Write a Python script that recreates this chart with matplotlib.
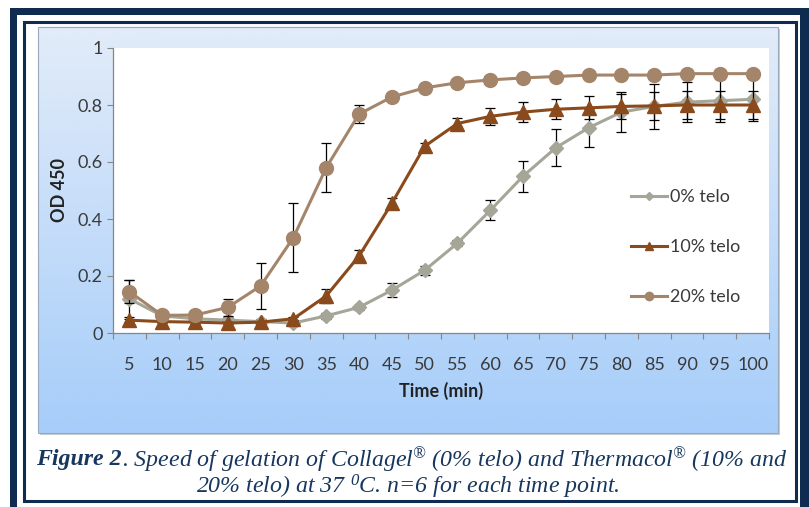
import numpy as np
import matplotlib
matplotlib.use("Agg")
import matplotlib.pyplot as plt
from matplotlib.patches import Rectangle
from matplotlib.colors import LinearSegmentedColormap

# data
times = [5, 10, 15, 20, 25, 30, 35, 40, 45, 50, 55, 60, 65, 70, 75, 80, 85, 90, 95, 100]

telo0 = [0.12, 0.06, 0.05, 0.045, 0.04, 0.035, 0.06, 0.09, 0.15, 0.22,
         0.315, 0.43, 0.55, 0.65, 0.72, 0.775, 0.795, 0.81, 0.815, 0.82]
err0 = [0.065, 0.01, 0.01, 0.01, 0.01, 0.01, 0.01, 0.01, 0.025, 0.015,
        0.01, 0.035, 0.055, 0.065, 0.067, 0.07, 0.08, 0.07, 0.075, 0.075]

telo10 = [0.045, 0.04, 0.038, 0.035, 0.038, 0.05, 0.13, 0.27, 0.455, 0.655,
          0.735, 0.76, 0.775, 0.785, 0.79, 0.795, 0.797, 0.80, 0.80, 0.80]
err10 = [0.005, 0.005, 0.005, 0.005, 0.005, 0.005, 0.025, 0.02, 0.02, 0.01,
         0.02, 0.03, 0.035, 0.035, 0.04, 0.045, 0.05, 0.05, 0.05, 0.05]

telo20 = [0.145, 0.062, 0.063, 0.09, 0.165, 0.335, 0.58, 0.768, 0.828, 0.86,
          0.878, 0.888, 0.895, 0.90, 0.905, 0.905, 0.905, 0.91, 0.91, 0.91]
err20 = [0.04, 0.004, 0.004, 0.03, 0.08, 0.12, 0.085, 0.032, 0.005, 0.005,
         0.004, 0.004, 0.004, 0.004, 0.004, 0.004, 0.004, 0.004, 0.004, 0.004]

series_labels = ['0% telo', '10% telo', '20% telo']
yticks = [0, 0.2, 0.4, 0.6, 0.8, 1]
ytick_labels = ['0', '0.2', '0.4', '0.6', '0.8', '1']

W, H = 809, 507
navy = '#0f2b50'
plt.rcParams['font.family'] = ['Lato', 'DejaVu Sans']
plt.rcParams['mathtext.fontset'] = 'custom'
plt.rcParams['mathtext.rm'] = 'Liberation Serif:italic'
plt.rcParams['mathtext.it'] = 'Liberation Serif:italic'
plt.rcParams['mathtext.bf'] = 'Liberation Serif:italic:bold'

fig = plt.figure(figsize=(W / 100, H / 100), dpi=100)
fig.patch.set_facecolor('white')


def box(x0, y0, x1, y1):
    # pixel box (top-left origin) -> figure fraction rect
    return (x0 / W, 1 - y1 / H, (x1 - x0) / W, (y1 - y0) / H)


# double navy frame
r = box(10, 8, 812, 512)
fig.add_artist(Rectangle(r[:2], r[2], r[3], transform=fig.transFigure, facecolor=navy, edgecolor='none', zorder=-5))
r = box(17, 15, 800, 512)
fig.add_artist(Rectangle(r[:2], r[2], r[3], transform=fig.transFigure, facecolor='white', edgecolor='none', zorder=-4))
r = box(23.5, 21.5, 795.5, 500.5)
fig.add_artist(Rectangle(r[:2], r[2], r[3], transform=fig.transFigure, facecolor='none', edgecolor=navy, lw=2.2, zorder=-3))

# chart area with gradient
r = box(38, 27, 778, 433)
bg = fig.add_axes(r, zorder=-2)
cmap = LinearSegmentedColormap.from_list('g', ['#e2ecf9', '#a6cdf9'])
bg.imshow(np.linspace(0, 1, 256).reshape(-1, 1), cmap=cmap, aspect='auto', extent=[0, 1, 0, 1])
bg.set_xlim(0, 1)
bg.set_ylim(0, 1)
bg.axis('off')
r = box(40, 29, 780, 435)
fig.add_artist(Rectangle(r[:2], r[2], r[3], transform=fig.transFigure, facecolor='#c8ccd2', edgecolor='none', zorder=-2.5))
r = box(38, 27, 778, 433)
fig.add_artist(Rectangle(r[:2], r[2], r[3], transform=fig.transFigure, facecolor='none', edgecolor='#9aaabb', lw=0.8, zorder=5))

# plot area
ax = fig.add_axes(box(113, 48, 769, 333), zorder=1)
ax.set_facecolor('white')
xpos = np.arange(len(times))

c0, c10, c20 = '#a5a598', '#8a4a1c', '#a5856a'
ebar = dict(fmt='none', ecolor='black', elinewidth=0.9, capsize=3.5, capthick=0.9)
ax.errorbar(xpos, telo0, yerr=err0, zorder=2.9, **ebar)
ax.plot(xpos, telo0, color=c0, lw=2.2, marker='D', ms=7, zorder=3, label=series_labels[0])
ax.errorbar(xpos, telo10, yerr=err10, zorder=3.9, **ebar)
ax.plot(xpos, telo10, color=c10, lw=2.2, marker='^', ms=9.5, zorder=4, label=series_labels[1])
ax.errorbar(xpos, telo20, yerr=err20, zorder=4.9, **ebar)
ax.plot(xpos, telo20, color=c20, lw=2.2, marker='o', ms=10, zorder=5, label=series_labels[2])

ax.set_xlim(-0.5, len(times) - 0.5)
ax.set_ylim(0, 1)
ax.set_yticks(yticks)
ax.set_yticklabels(ytick_labels)
ax.set_xticks(xpos)
ax.set_xticklabels([str(t) for t in times])
ax.set_xticks(np.arange(-0.5, len(times)), minor=True)
ax.tick_params(axis='x', which='major', length=0, pad=17, labelsize=13, labelcolor='#3a3a3a')
ax.tick_params(axis='x', which='minor', length=4, color='#868686', width=0.8)
ax.tick_params(axis='y', length=4, color='#868686', width=0.8, pad=3.5, labelsize=13, labelcolor='#3a3a3a')
for s in ['top', 'right']:
    ax.spines[s].set_visible(False)
for s in ['left', 'bottom']:
    ax.spines[s].set_color('#868686')
    ax.spines[s].set_linewidth(0.9)

ax.set_xlabel('Time (min)', fontsize=13, fontweight='bold', color='#222222')
ax.xaxis.set_label_coords(0.5, -0.17)
ax.set_ylabel('OD 450', fontsize=13, fontweight='bold', color='#222222')
ax.yaxis.set_label_coords(-0.068, 0.5)

ax.legend(loc='center left', bbox_to_anchor=(0.765, 0.302), frameon=False, fontsize=13,
          handlelength=2.0, handletextpad=0.15, labelspacing=1.88, markerscale=0.6,
          labelcolor='#3a3a3a')

# caption
cap_color = '#17375e'
cap_kw = dict(fontsize=17.2, family='Liberation Serif', style='italic', color=cap_color, va='center')
renderer = fig.canvas.get_renderer()
t1 = fig.text(0, 1 - 460 / H, 'Figure 2', fontweight='bold', **cap_kw)
t2 = fig.text(0, 1 - 460 / H, '. Speed of gelation of Collagel$^{®}$ (0% telo) and Thermacol$^{®}$ (10% and', **cap_kw)
w1 = t1.get_window_extent(renderer).width
w2 = t2.get_window_extent(renderer).width
x0 = (412 - (w1 + w2) / 2) / W
t1.set_x(x0)
t2.set_x(x0 + w1 / W)
fig.text(408 / W, 1 - 487 / H, '20% telo) at 37 $^{0}$C. n=6 for each time point.', ha='center', **cap_kw)

fig.savefig('out.png', dpi=100)
